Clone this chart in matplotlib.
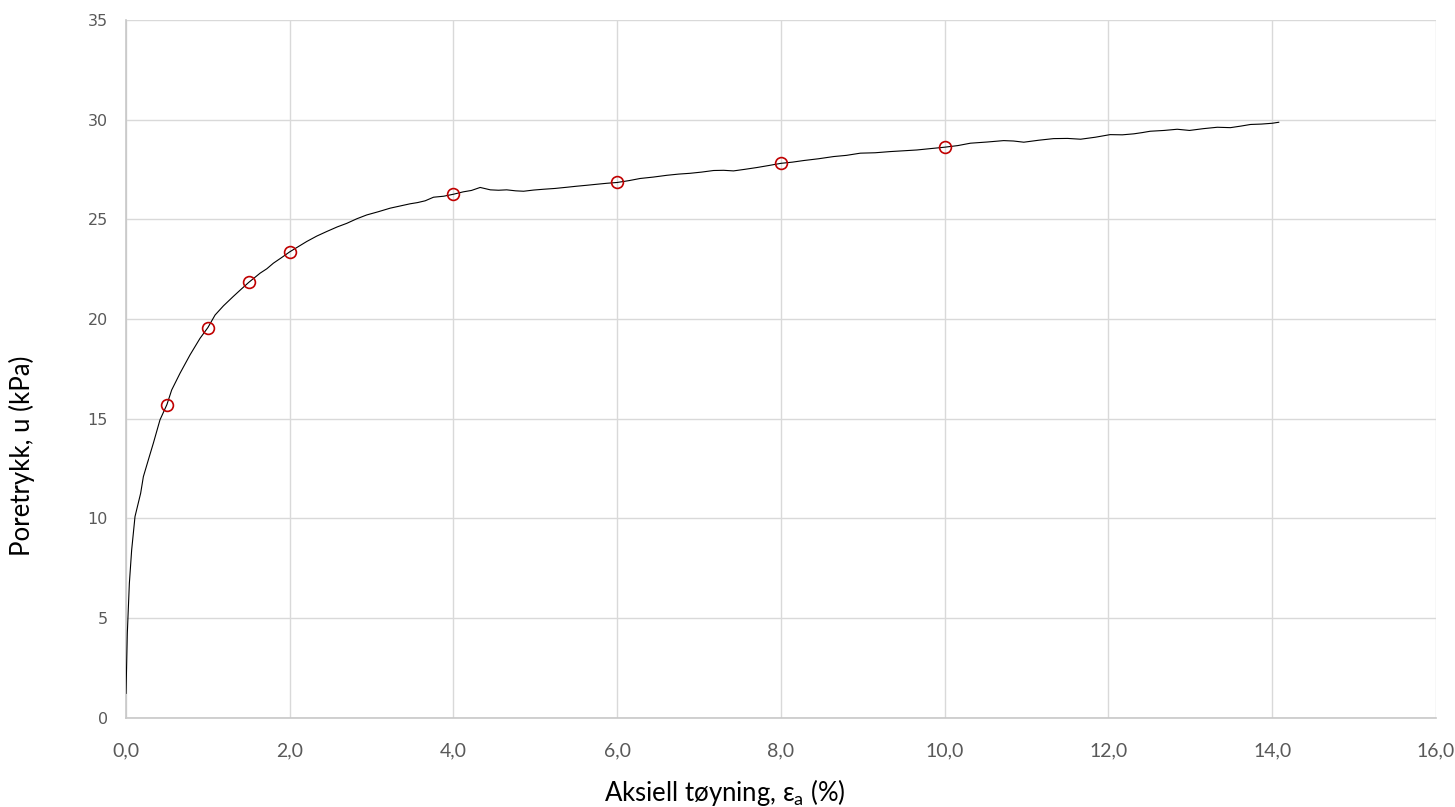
import matplotlib
matplotlib.use("Agg")
import matplotlib.pyplot as plt
from matplotlib.ticker import FuncFormatter

# Measured pore pressure vs axial strain
strain = [0.0, 0.016, 0.041, 0.069, 0.110, 0.179, 0.212, 0.285, 0.334, 0.415,
          0.50, 0.558, 0.66, 0.782, 0.904, 1.0, 1.088, 1.19, 1.31, 1.40,
          1.50, 1.638, 1.72, 1.80, 1.90, 2.0, 2.10, 2.208, 2.33, 2.452,
          2.58, 2.697, 2.82, 2.94, 3.08, 3.226, 3.348, 3.47, 3.56, 3.654,
          3.756, 3.88, 4.0, 4.12, 4.22, 4.326, 4.45, 4.55, 4.65, 4.76,
          4.856, 4.98, 5.10, 5.24, 5.385, 5.50, 5.63, 5.75, 5.875, 6.0,
          6.14, 6.28, 6.44, 6.607, 6.75, 6.89, 7.03, 7.177, 7.30, 7.42,
          7.56, 7.707, 7.85, 8.0, 8.14, 8.277, 8.46, 8.643, 8.80, 8.97,
          9.15, 9.336, 9.50, 9.66, 9.83, 10.0, 10.16, 10.314, 10.52, 10.72,
          10.84, 10.966, 11.15, 11.33, 11.50, 11.66, 11.84, 12.02, 12.17, 12.31,
          12.41, 12.51, 12.68, 12.84, 12.99, 13.16, 13.33, 13.49, 13.62, 13.736,
          13.87, 14.0, 14.08]
pore_pressure = [1.22, 4.23, 6.74, 8.41, 10.09, 11.26, 12.09, 13.10, 13.77, 14.94,
                 15.71, 16.44, 17.28, 18.20, 19.03, 19.57, 20.20, 20.66, 21.13, 21.47,
                 21.84, 22.30, 22.52, 22.80, 23.08, 23.37, 23.62, 23.89, 24.16, 24.39,
                 24.62, 24.80, 25.03, 25.22, 25.38, 25.56, 25.67, 25.78, 25.84, 25.93,
                 26.11, 26.16, 26.26, 26.38, 26.45, 26.60, 26.48, 26.46, 26.48, 26.43,
                 26.41, 26.47, 26.51, 26.55, 26.61, 26.66, 26.71, 26.76, 26.81, 26.85,
                 26.94, 27.05, 27.12, 27.21, 27.27, 27.31, 27.37, 27.45, 27.46, 27.43,
                 27.51, 27.60, 27.70, 27.81, 27.87, 27.95, 28.04, 28.15, 28.21, 28.32,
                 28.34, 28.40, 28.44, 28.48, 28.55, 28.62, 28.70, 28.82, 28.88, 28.95,
                 28.93, 28.87, 28.97, 29.05, 29.06, 29.02, 29.12, 29.25, 29.24, 29.29,
                 29.35, 29.42, 29.46, 29.52, 29.46, 29.55, 29.62, 29.60, 29.68, 29.76,
                 29.78, 29.82, 29.87]

# Selected points at reference strain levels
ref_strain = [0.5, 1.0, 1.5, 2.0, 4.0, 6.0, 8.0, 10.0]
ref_pressure = [15.71, 19.57, 21.84, 23.37, 26.26, 26.85, 27.81, 28.62]

x_ticks = [0, 2, 4, 6, 8, 10, 12, 14, 16]
y_ticks = [0, 5, 10, 15, 20, 25, 30, 35]

fig = plt.figure(figsize=(14.55, 8.07), dpi=100)
ax = fig.add_axes([0.0866, 0.1107, 0.9003, 0.8645])

ax.plot(strain, pore_pressure, color="black", linewidth=0.8, zorder=3)
ax.plot(ref_strain, ref_pressure, linestyle="none", marker="o", markersize=8.5,
        markerfacecolor="none", markeredgecolor="#C00000", markeredgewidth=1.2, zorder=4)

ax.set_xlim(0, 16)
ax.set_ylim(0, 35)
ax.set_xticks(x_ticks)
ax.set_yticks(y_ticks)
ax.xaxis.set_major_formatter(FuncFormatter(lambda v, p: f"{v:.1f}".replace(".", ",")))
ax.yaxis.set_major_formatter(FuncFormatter(lambda v, p: f"{v:.0f}"))

ax.grid(True, color="#d9d9d9", linewidth=1.0, zorder=0)
ax.set_axisbelow(True)
for side in ["top", "right"]:
    ax.spines[side].set_visible(False)
for side in ["left", "bottom"]:
    ax.spines[side].set_color("#c8c8c8")
    ax.spines[side].set_linewidth(1.2)

ax.tick_params(axis="both", length=0, colors="#595959")
ax.tick_params(axis="x", pad=18)
ax.tick_params(axis="y", pad=13)
for lbl in ax.get_xticklabels():
    lbl.set_fontfamily("Lato")
    lbl.set_fontsize(14)
for lbl in ax.get_yticklabels():
    lbl.set_fontfamily("DejaVu Sans")
    lbl.set_fontsize(11.5)

# Axis titles
fig.text(725 / 1455, 1 - 793 / 807, r"Aksiell tøyning, ε$_\mathregular{a}$ (%)",
         fontsize=18.5, family="Lato", color="black", ha="center", va="center")
fig.text(22 / 1455, 1 - 456 / 807, "Poretrykk, u (kPa)", fontsize=18.5,
         family="Lato", color="black", ha="center", va="center", rotation=90)

fig.savefig("out.png", dpi=100, facecolor="white")
